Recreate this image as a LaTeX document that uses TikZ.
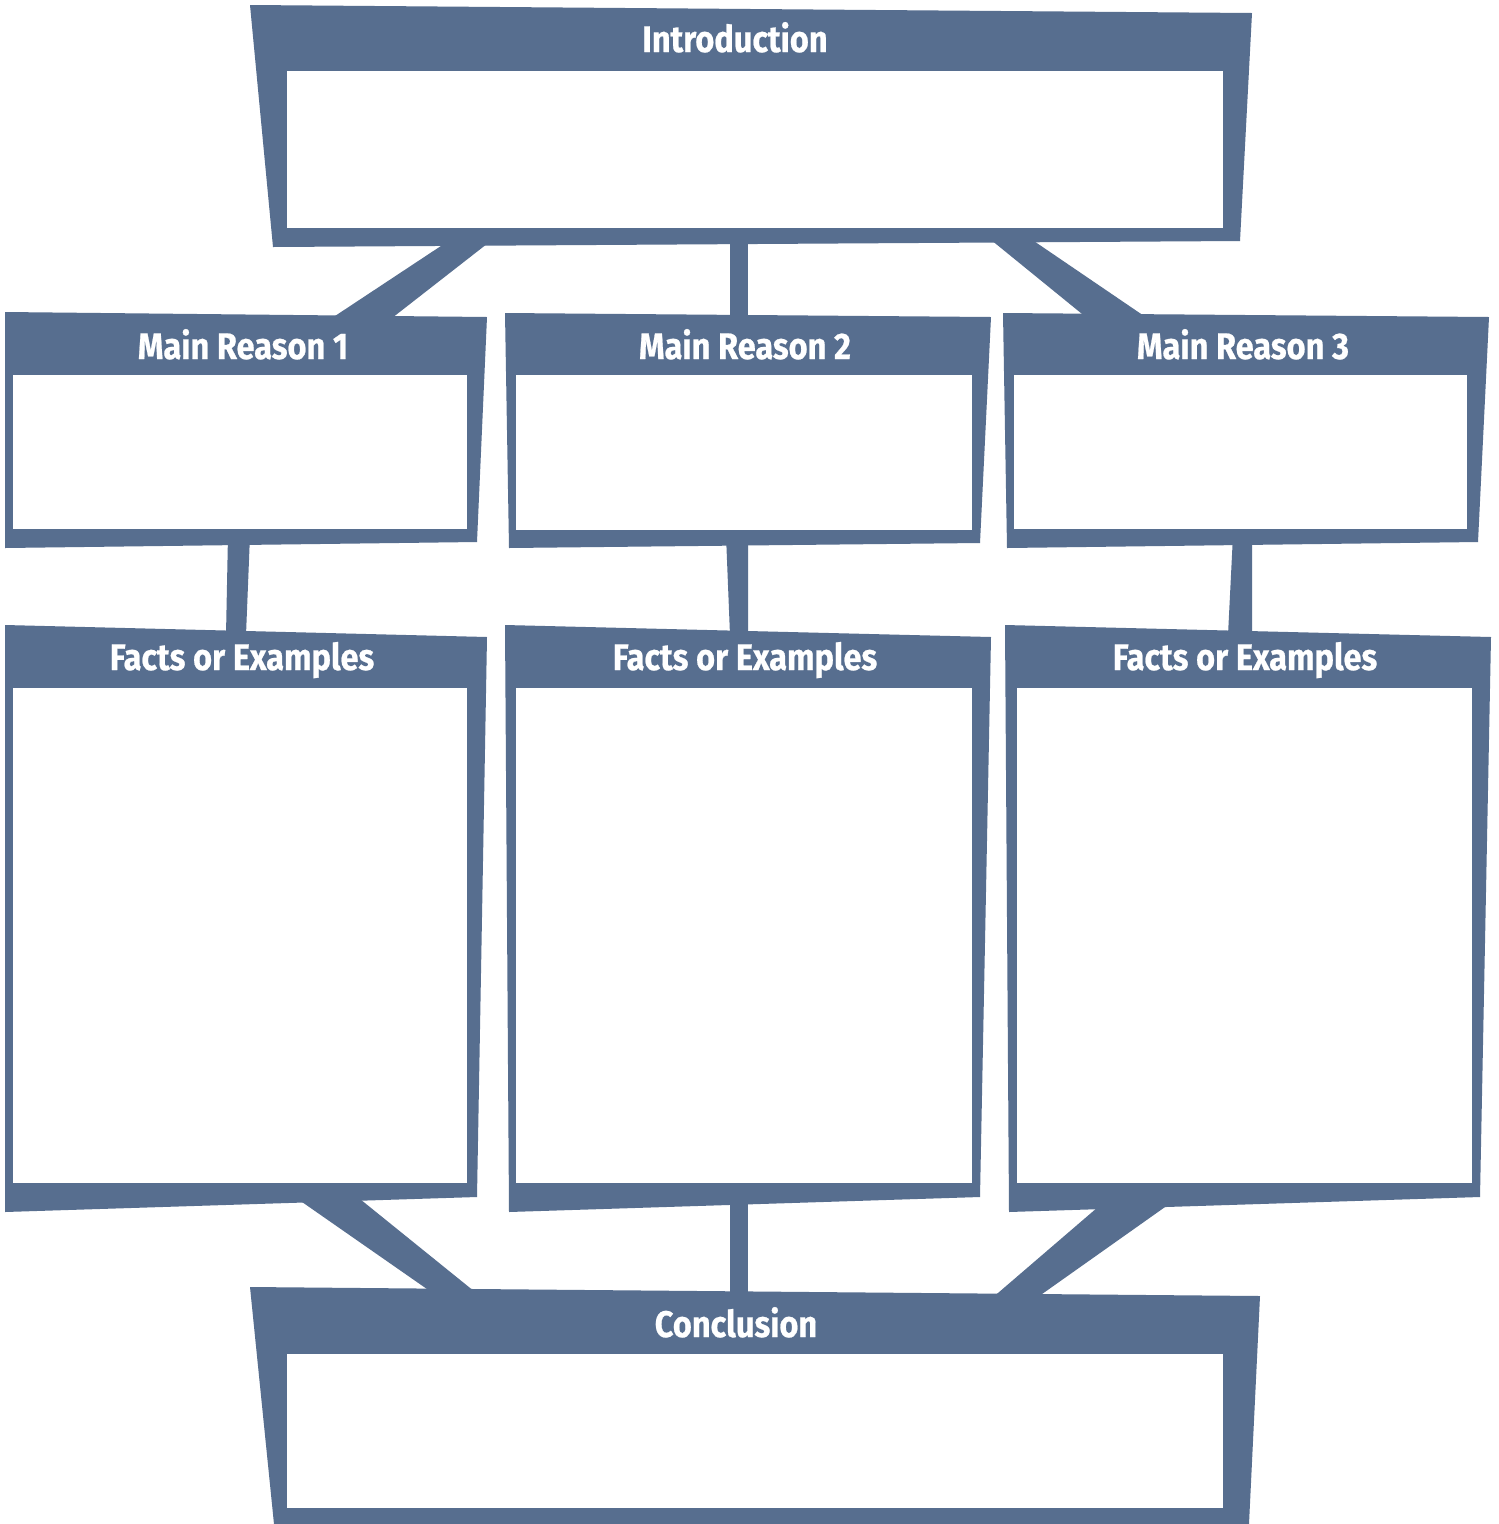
\documentclass[tikz,border=0pt]{standalone}
\usepackage{fontspec}
\newfontfamily\labfont[FakeStretch=0.88,FakeBold=0.6]{Fira Sans}
\definecolor{slate}{RGB}{87,110,143}
\begin{document}
\begin{tikzpicture}[x=1pt,y=-1pt,
  panel/.style={fill=slate},
  hole/.style={fill=white},
  link/.style={fill=slate},
  lbl/.style={text=white,inner sep=0pt,anchor=base,
    font=\labfont\bfseries\fontsize{37}{40}\selectfont}]
\useasboundingbox (0,0) rectangle (1499,1524);
\fill[white] (0,0) rectangle (1499,1524);

% connectors
\path[link] (450,240) -- (492,240) -- (392,318) -- (332,318) -- cycle;
\path[link] (730,235) -- (748,235) -- (748,320) -- (730,320) -- cycle;
\path[link] (985,235) -- (1025,235) -- (1147,318) -- (1087,318) -- cycle;

\path[link] (228,535) -- (250,535) -- (246,635) -- (226,635) -- cycle;
\path[link] (726,535) -- (748,535) -- (748,635) -- (730,635) -- cycle;
\path[link] (1233,535) -- (1252,535) -- (1252,635) -- (1228,635) -- cycle;

\path[link] (292,1195) -- (355,1195) -- (480,1296) -- (437,1296) -- cycle;
\path[link] (730,1195) -- (748,1195) -- (748,1298) -- (730,1298) -- cycle;
\path[link] (1112,1195) -- (1182,1195) -- (1035,1299) -- (991,1299) -- cycle;

% introduction
\path[panel] (250,5) -- (1252,13) -- (1240,241) -- (273,247) -- cycle;
\path[hole] (287,71) rectangle (1223,228);
\node[lbl] (intro) at (735,52) {Introduction};

% main reasons
\path[panel] (5,312) -- (487,317) -- (477,542) -- (5,548) -- cycle;
\path[hole] (13,375) rectangle (467,529);
\node[lbl] (mr1) at (243,359) {Main Reason 1};

\path[panel] (505,313) -- (991,317) -- (980,543) -- (509,548) -- cycle;
\path[hole] (516,375) rectangle (972,530);
\node[lbl] (mr2) at (745,359) {Main Reason 2};

\path[panel] (1003,313) -- (1489,317) -- (1478,542) -- (1007,548) -- cycle;
\path[hole] (1014,375) rectangle (1467,529);
\node[lbl] (mr3) at (1243,359) {Main Reason 3};

% facts
\path[panel] (5,625) -- (487,637) -- (477,1197) -- (5,1212) -- cycle;
\path[hole] (13,688) rectangle (467,1183);
\node[lbl] (fe1) at (242,670) {Facts or Examples};

\path[panel] (505,625) -- (991,637) -- (980,1197) -- (509,1212) -- cycle;
\path[hole] (516,688) rectangle (972,1183);
\node[lbl] (fe2) at (745,670) {Facts or Examples};

\path[panel] (1005,625) -- (1491,637) -- (1480,1197) -- (1009,1212) -- cycle;
\path[hole] (1017,688) rectangle (1472,1183);
\node[lbl] (fe3) at (1245,670) {Facts or Examples};

% conclusion
\path[panel] (250,1287) -- (1260,1296) -- (1249,1524) -- (274,1524) -- cycle;
\path[hole] (287,1354) rectangle (1223,1508);
\node[lbl] (concl) at (736,1337) {Conclusion};
\end{tikzpicture}
\end{document}
